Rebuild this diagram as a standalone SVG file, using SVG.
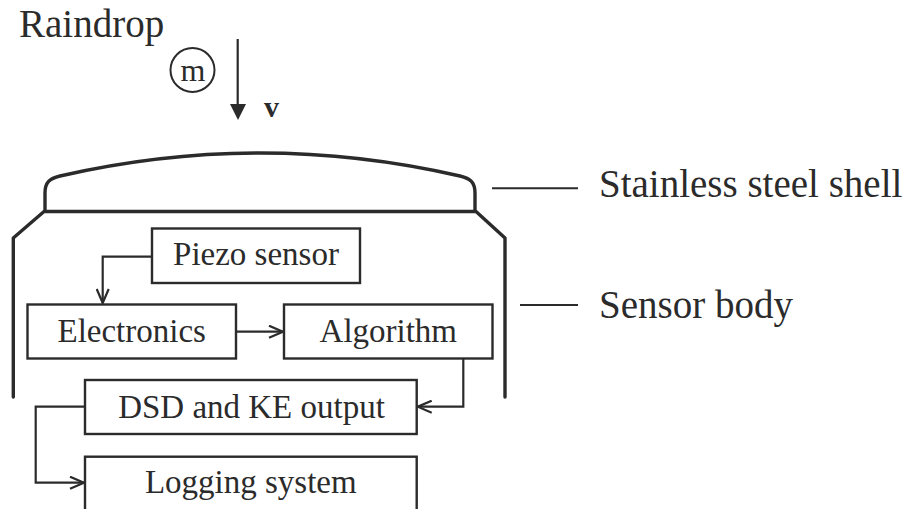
<svg xmlns="http://www.w3.org/2000/svg" width="914" height="509" viewBox="0 0 914 509">
<style>
  .t { font-family: "Liberation Serif", "Times New Roman", serif; fill: #2b2b2b; }
  .big { font-size: 39px; }
  .box rect { fill: none; stroke: #2b2b2b; stroke-width: 2.4; }
  .box text { font-family: "Liberation Serif", "Times New Roman", serif; font-size: 33px; fill: #2b2b2b; text-anchor: middle; }
  .thick { fill: none; stroke: #2b2b2b; stroke-width: 3.4; stroke-linejoin: round; stroke-linecap: round; }
  .conn path { fill: none; stroke: #2b2b2b; stroke-width: 2.2; }
  .lead { stroke: #2b2b2b; stroke-width: 2; }
</style>
<defs>
  <marker id="open" viewBox="0 0 16 14" refX="15" refY="7" markerWidth="16" markerHeight="14" markerUnits="userSpaceOnUse" orient="auto">
    <path d="M1,1 L15,7 L1,13" fill="none" stroke="#2b2b2b" stroke-width="2.2"/>
  </marker>
</defs>
<rect width="914" height="509" fill="#ffffff"/>

<g id="raindrop">
  <text class="t big" x="19" y="37">Raindrop</text>
  <circle cx="192.5" cy="70" r="22" fill="none" stroke="#2b2b2b" stroke-width="2"/>
  <text class="t" x="193" y="81" font-size="32" text-anchor="middle">m</text>
  <line x1="237.7" y1="39" x2="237.7" y2="106" stroke="#2b2b2b" stroke-width="2.2"/>
  <polygon points="230,104 246,104 238,120" fill="#2b2b2b"/>
  <text class="t" x="264" y="117" font-size="30" font-weight="bold">v</text>
</g>

<g id="shell">
  <path class="thick" d="M45,211.5 V193 C45,183 49,178.5 60,176 Q260,130 460,176 C471,178.5 475,183 475,193 V211.5 Z"/>
  <line class="lead" x1="492" y1="188.3" x2="578" y2="188.3"/>
  <text class="t big" x="599" y="197">Stainless steel shell</text>
</g>

<g id="body">
  <path class="thick" d="M13.3,397 V238 L44,211.5"/>
  <path class="thick" d="M505,397 V238 L476,211.5"/>
  <line class="lead" x1="520" y1="305" x2="578" y2="305"/>
  <text class="t big" x="599" y="318">Sensor body</text>
</g>

<g id="piezo" class="box">
  <rect x="152" y="228.5" width="208" height="54.5"/>
  <text x="256" y="265">Piezo sensor</text>
</g>
<g id="electronics" class="box">
  <rect x="27.5" y="304.5" width="208.5" height="54"/>
  <text x="131.7" y="341.5">Electronics</text>
</g>
<g id="algorithm" class="box">
  <rect x="284" y="304.5" width="208.5" height="54"/>
  <text x="388.3" y="341.5">Algorithm</text>
</g>
<g id="dsd" class="box">
  <rect x="85" y="380" width="331.7" height="54"/>
  <text x="251.5" y="418">DSD and KE output</text>
</g>
<g id="logging" class="box">
  <rect x="85" y="456.7" width="331.7" height="70"/>
  <text x="250.8" y="493">Logging system</text>
</g>

<g id="connectors" class="conn">
  <path d="M152,256.7 H102.7 V303" marker-end="url(#open)"/>
  <path d="M236,331.7 H283" marker-end="url(#open)"/>
  <path d="M463.3,358.5 V406.7 H417.7" marker-end="url(#open)"/>
  <path d="M85,406.7 H35.7 V482.7 H84" marker-end="url(#open)"/>
</g>
</svg>
